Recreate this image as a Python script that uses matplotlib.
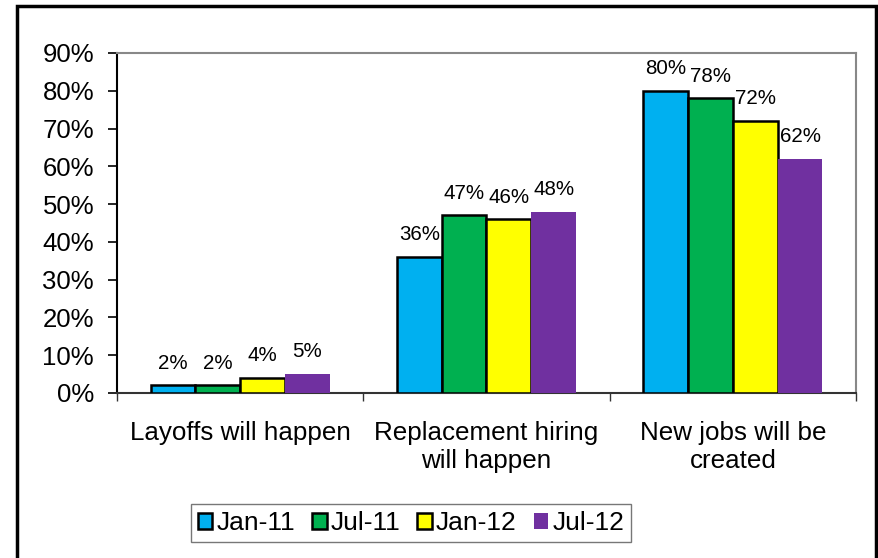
import matplotlib
matplotlib.use("Agg")
import matplotlib.pyplot as plt
import numpy as np
from matplotlib.patches import Rectangle, Patch
from matplotlib.ticker import FuncFormatter, FixedLocator

plt.rcParams['font.family'] = ['Liberation Sans', 'DejaVu Sans']

categories = ["Layoffs will happen", "Replacement hiring\nwill happen", "New jobs will be\ncreated"]
series_names = ["Jan-11", "Jul-11", "Jan-12", "Jul-12"]
jan11 = [2, 36, 80]
jul11 = [2, 47, 78]
jan12 = [4, 46, 72]
jul12 = [5, 48, 62]
series_values = [jan11, jul11, jan12, jul12]
colors = ["#00B0F0", "#00B050", "#FFFF00", "#7030A0"]
edges = ["black", "black", "black", "none"]

fig = plt.figure(figsize=(8.79, 5.58), dpi=100)
ax = fig.add_axes([117/879, 1-393/558, (856-117)/879, (393-53)/558])

x = np.arange(len(categories))
w = 0.182
for i, (name, vals) in enumerate(zip(series_names, series_values)):
    pos = x + (i - 1.5) * w
    v = np.array(vals) / 100.0
    ax.bar(pos, v, width=w, color=colors[i], edgecolor=edges[i],
           linewidth=1.8 if edges[i] != "none" else 0, label=name, zorder=3)
    for px, val in zip(pos, vals):
        ax.annotate(f"{val}%", (px, val/100.0), xytext=(0, 12),
                    textcoords="offset points", ha="center", va="baseline",
                    fontsize=14.8, color="black")

ax.set_xlim(-0.5, 2.5)
ax.set_ylim(0, 0.9)
ax.set_yticks(np.arange(0, 0.91, 0.1))
ax.yaxis.set_major_formatter(FuncFormatter(lambda v, p: f"{int(round(v*100))}%"))
ax.tick_params(axis='y', length=6.5, width=1.2, pad=10, labelsize=18.5, direction='out')

ax.xaxis.set_major_locator(FixedLocator([-0.5, 0.5, 1.5, 2.5]))
ax.xaxis.set_minor_locator(FixedLocator(list(x)))
ax.set_xticklabels([], minor=False)
ax.set_xticklabels(categories, minor=True)
ax.tick_params(axis='x', which='major', length=6, width=1.0, color="#333333", direction='out')
ax.tick_params(axis='x', which='minor', length=0, pad=20, labelsize=18.7)
for lab in ax.get_xticklabels(minor=True):
    lab.set_linespacing(1.22)

ax.spines['left'].set_color('black')
ax.spines['left'].set_linewidth(1.5)
ax.spines['bottom'].set_color('#333333')
ax.spines['bottom'].set_linewidth(1.5)
ax.spines['top'].set_color('#888888')
ax.spines['top'].set_linewidth(1.5)
ax.spines['right'].set_color('#888888')
ax.spines['right'].set_linewidth(1.5)

handles = [Patch(facecolor=c, edgecolor=e, linewidth=1.8 if e != "none" else 0)
           for c, e in zip(colors, edges)]
leg = fig.legend(handles, series_names, loc='center', bbox_to_anchor=(411/879, 1-523/558),
                 ncol=4, fontsize=19, frameon=True, fancybox=False,
                 handlelength=0.55, handleheight=0.55, handletextpad=0.15,
                 columnspacing=0.65, borderpad=0.25, borderaxespad=0)
leg.get_frame().set_edgecolor('#555555')
leg.get_frame().set_linewidth(1.0)

fig.patches.append(Rectangle((17.5/879, -0.05), (876.5-17.5)/879, 1.05-5.5/558,
                             transform=fig.transFigure, fill=False,
                             edgecolor='black', linewidth=2.5))

fig.savefig("out.png", dpi=100)
